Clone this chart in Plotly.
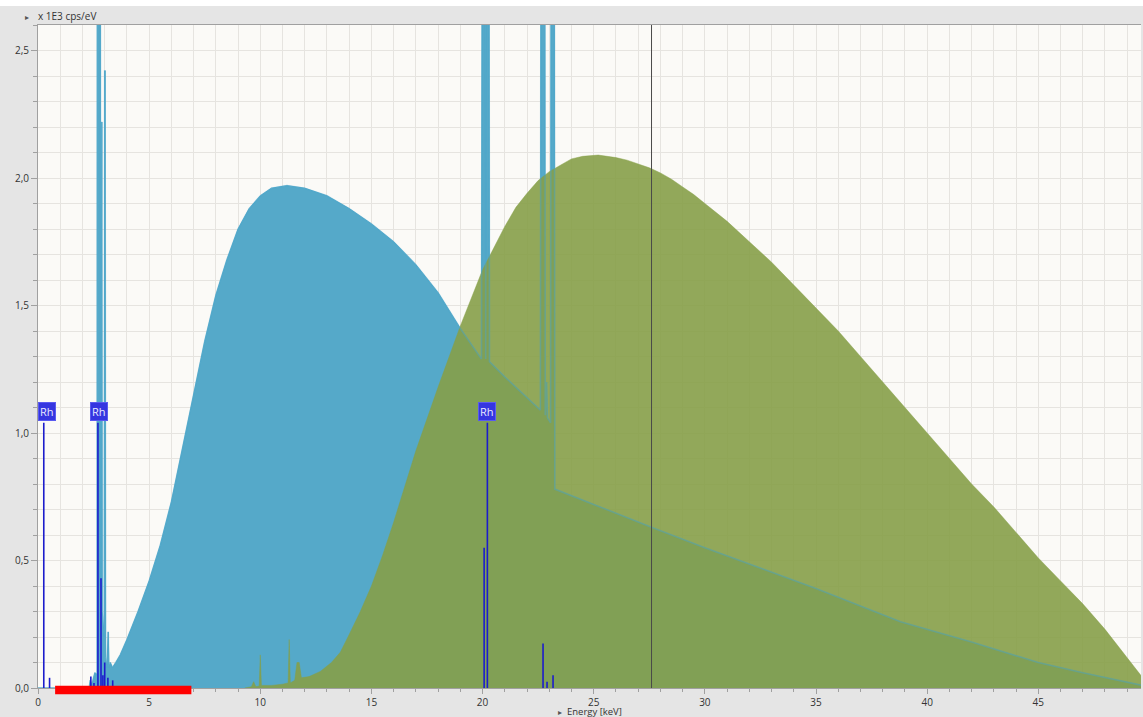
import plotly.graph_objects as go

# ---- data ----
# light-blue spectrum (energy keV, x1E3 cps/eV); values above 2.6 are clipped peaks
blue_e = [0.0, 2.30, 2.35, 2.42, 2.50, 2.56, 2.62, 2.66, 2.67, 2.80, 2.82, 2.84, 2.87, 2.89,
          2.98, 3.00, 3.02, 3.04, 3.10, 3.16, 3.19, 3.25, 3.35, 3.50, 3.70, 4.0, 4.5, 5.0, 5.5,
          6.0, 6.5, 7.0, 7.5, 8.0, 8.5, 9.0, 9.5, 10.0, 10.5, 11.2, 12.0, 13.0, 14.0, 15.0,
          16.0, 17.0, 18.0, 19.0, 19.95, 20.0, 20.11, 20.14, 20.17, 20.28, 20.31, 21.0, 22.0,
          22.6, 22.64, 22.79, 22.82, 22.88, 22.92, 23.06, 23.09, 23.22, 23.25, 24.0, 25.0,
          27.6, 30.0, 35.0, 38.8, 42.0, 45.0, 47.0, 49.7]
blue_v = [0.0, 0.0, 0.03, 0.01, 0.04, 0.06, 0.05, 0.06, 4.0, 4.0, 0.40, 2.22, 2.22, 0.30,
          0.20, 2.42, 2.42, 0.12, 0.08, 0.22, 0.08, 0.10, 0.08, 0.10, 0.13, 0.19, 0.30, 0.42, 0.56,
          0.73, 0.94, 1.16, 1.36, 1.54, 1.68, 1.80, 1.88, 1.93, 1.96, 1.97, 1.96, 1.93, 1.88, 1.82,
          1.75, 1.66, 1.55, 1.41, 1.29, 4.0, 4.0, 1.29, 4.0, 4.0, 1.28, 1.22, 1.14,
          1.09, 4.0, 4.0, 1.07, 1.20, 1.06, 1.04, 4.0, 4.0, 0.78, 0.755, 0.72,
          0.63, 0.55, 0.39, 0.26, 0.18, 0.10, 0.06, 0.01]

# olive spectrum
green_e = [9.3, 9.6, 9.7, 9.8, 9.95, 10.0, 10.05, 10.5, 11.0, 11.25, 11.3, 11.35, 11.55, 11.65,
           11.75, 11.85, 12.2, 12.7, 13.2, 13.6, 14.0, 14.5, 15.0, 15.5, 16.0, 16.5, 17.0, 18.0,
           19.0, 20.0, 21.0, 21.5, 22.0, 22.5, 23.0, 23.5, 24.0, 24.5, 25.2, 26.0, 26.5, 27.0,
           27.5, 28.0, 28.5, 29.0, 29.5, 30.0, 31.0, 32.0, 33.0, 34.0, 35.0, 36.0, 37.0, 38.0,
           39.0, 40.0, 41.0, 42.0, 43.0, 44.0, 45.0, 46.0, 47.0, 48.0, 49.0, 49.7]
green_v = [0.0, 0.005, 0.025, 0.005, 0.008, 0.13, 0.01, 0.01, 0.015, 0.02, 0.19, 0.02, 0.03, 0.10,
           0.10, 0.04, 0.045, 0.065, 0.10, 0.14, 0.21, 0.30, 0.40, 0.52, 0.65, 0.79, 0.93, 1.18,
           1.42, 1.64, 1.81, 1.885, 1.94, 1.99, 2.025, 2.05, 2.075, 2.085, 2.09, 2.08, 2.07, 2.055,
           2.04, 2.02, 1.995, 1.965, 1.935, 1.90, 1.83, 1.75, 1.67, 1.58, 1.49, 1.40, 1.30, 1.20,
           1.10, 1.00, 0.90, 0.80, 0.71, 0.61, 0.51, 0.42, 0.33, 0.23, 0.12, 0.04]

# Rh element marker lines
line_e = [0.26, 0.52, 2.377, 2.519, 2.697, 2.834, 2.92, 3.001, 3.144, 3.36,
          20.07, 20.216, 22.72, 22.90, 23.17]
line_v = [1.04, 0.04, 0.045, 0.02, 1.04, 0.43, 0.05, 0.10, 0.04, 0.03,
          0.55, 1.04, 0.175, 0.025, 0.05]

label_text = ["Rh", "Rh", "Rh"]
label_e = [0.26, 2.697, 20.216]
label_v = [1.04, 1.04, 1.04]

cursor_e = 27.6
roi_e = [0.77, 6.9]

x_ticks = [0, 5, 10, 15, 20, 25, 30, 35, 40, 45]

# ---- figure ----
BLUE = "#55a9c9"
fig = go.Figure()

fig.add_trace(go.Scatter(x=blue_e, y=blue_v, mode="lines", fill="tozeroy",
                         fillcolor=BLUE, line=dict(color=BLUE, width=1),
                         hoverinfo="skip", showlegend=False))
fig.add_trace(go.Scatter(x=green_e, y=green_v, mode="lines", fill="tozeroy",
                         fillcolor="rgba(134,159,72,0.9)",
                         line=dict(color="rgba(134,159,72,0.9)", width=0.5),
                         hoverinfo="skip", showlegend=False))
fig.add_trace(go.Scatter(x=blue_e, y=blue_v, mode="lines",
                         line=dict(color="#4aa6cc", width=1.6),
                         opacity=0.45, hoverinfo="skip", showlegend=False))

lx, ly = [], []
for e, v in zip(line_e, line_v):
    lx += [e, e, None]
    ly += [0, v, None]
fig.add_trace(go.Scatter(x=lx, y=ly, mode="lines",
                         line=dict(color="#1c1ccc", width=1.6),
                         hoverinfo="skip", showlegend=False))

shifts = [3, 1, 0]
for t, e, v, s in zip(label_text, label_e, label_v, shifts):
    fig.add_annotation(x=e, y=v, text=t, showarrow=False, xanchor="center",
                       yanchor="bottom", yshift=2, xshift=s,
                       bgcolor="#3535e0", bordercolor="#5a5af0", borderwidth=1, borderpad=1,
                       font=dict(family="Open Sans", size=11, color="#e8e8ff"))

fig.add_shape(type="line", xref="x", yref="paper", x0=cursor_e, x1=cursor_e, y0=0, y1=1,
              line=dict(color="#4a4a4a", width=1), layer="above")
fig.add_shape(type="rect", xref="x", yref="paper", x0=roi_e[0], x1=roi_e[1],
              y0=-0.0095, y1=0.0035, fillcolor="#ff0000", line=dict(width=0), layer="above")

# white strip at very top of page
fig.add_shape(type="rect", xref="paper", yref="paper", x0=-0.05, x1=1.01,
              y0=1 + 19 / 663, y1=1.05, fillcolor="white", line=dict(width=0), layer="below")

fig.add_annotation(xref="paper", yref="paper", x=0, y=1, xanchor="left", yanchor="bottom",
                   text="x 1E3 cps/eV", showarrow=False, xshift=-2, yshift=0,
                   font=dict(family="Open Sans", size=10, color="#333333"))
fig.add_annotation(xref="paper", yref="paper", x=0, y=1, xanchor="left", yanchor="bottom",
                   text="▸", showarrow=False, xshift=-15, yshift=1,
                   font=dict(family="DejaVu Sans", size=8, color="#555555"))
fig.add_annotation(xref="paper", yref="paper", x=0.5, y=0, xanchor="center", yanchor="top",
                   text="<span style='color:#555;font-size:8px'>▸</span>  Energy [keV]",
                   showarrow=False, yshift=-16, borderpad=0,
                   font=dict(family="Open Sans", size=9.5, color="#333333"))

GRID = "#e6e4e0"
AX = "#a0a0a0"
fig.update_layout(
    width=1143, height=717,
    margin=dict(l=38, r=2, t=25, b=29, autoexpand=False),
    paper_bgcolor="#e5e5e5",
    plot_bgcolor="#fbfaf7",
    separators=",.",
    showlegend=False,
    font=dict(family="Open Sans", size=10, color="#333333"),
    xaxis=dict(range=[0, 49.62], tickvals=x_ticks, ticks="outside", ticklen=5, tickcolor=AX,
               showline=True, linecolor=AX, linewidth=1, mirror=True, automargin=False,
               showgrid=True, gridcolor=GRID, gridwidth=1, zeroline=False,
               minor=dict(dtick=1, ticks="outside", ticklen=3, tickcolor=AX,
                          showgrid=True, gridcolor=GRID),
               tickfont=dict(family="Open Sans", size=10, color="#333333")),
    yaxis=dict(range=[0, 2.6], dtick=0.5, tick0=0, tickformat=".1f", ticks="outside",
               ticklen=6, tickcolor=AX, showline=True, linecolor=AX, linewidth=1,
               automargin=False,
               showgrid=True, gridcolor=GRID, zeroline=False,
               minor=dict(dtick=0.1, ticks="outside", ticklen=4, tickcolor=AX,
                          showgrid=True, gridcolor=GRID),
               tickfont=dict(family="Open Sans", size=10, color="#333333")),
)

fig.write_html("out.html", config={"displayModeBar": False},
               post_script="document.body.style.margin='0px';")
